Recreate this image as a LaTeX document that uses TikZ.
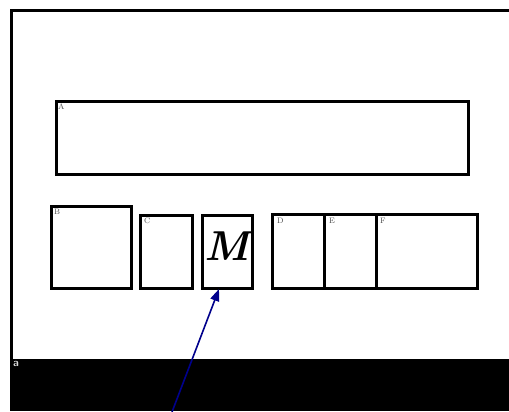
\documentclass[tikz,border=0pt]{standalone}
\usetikzlibrary{arrows.meta}
\definecolor{arrowblue}{RGB}{0,0,140}
\begin{document}
\begin{tikzpicture}[x=1bp,y=-1bp,
  box/.style={draw=black,line width=3bp},
  lab/.style={anchor=north west,inner sep=0pt,text=black!70,font=\fontsize{8}{8}\selectfont},
  conn/.style={draw=arrowblue,line width=1.6bp,-{Triangle[length=12bp,width=9bp]}}]
\useasboundingbox (0,0) rectangle (509,411);
\fill[white] (0,0) rectangle (509,411);
% outer frame
\draw[line width=3bp] (520,10.5) -- (11,10.5) -- (11,411);
\fill[black] (11,359) rectangle (509,411);
\node[anchor=north west,inner sep=0pt,text=white!85!black,font=\sffamily\bfseries\fontsize{11}{11}\selectfont] (la) at (13,361) {a};
% boxes
\draw[box] (56,101.5) rectangle (468.5,174.5);
\node[lab] (lA) at (58,103.5) {A};
\draw[box] (51,206) rectangle (131,288);
\node[lab] (lB) at (54,209) {B};
\draw[box] (140,215) rectangle (192,288);
\node[lab] (lC) at (144,218) {C};
\draw[box] (202.5,215) rectangle (252,288);
\node[inner sep=0pt,font=\fontsize{42}{42}\selectfont\bfseries\itshape] (M) at (227,246) {M};
\coordinate (Mbot) at (219,289);
\draw[box] (272.5,214.5) rectangle (477.5,288);
\draw[box] (324.5,214.5) -- (324.5,288);
\draw[box] (376,214.5) -- (376,288);
\node[lab] (lD) at (277,218) {D};
\node[lab] (lE) at (329,218) {E};
\node[lab] (lF) at (380,218) {F};
% arrow
\coordinate (start) at (172,412);
\draw[conn] (start) -- (Mbot);
\end{tikzpicture}
\end{document}
